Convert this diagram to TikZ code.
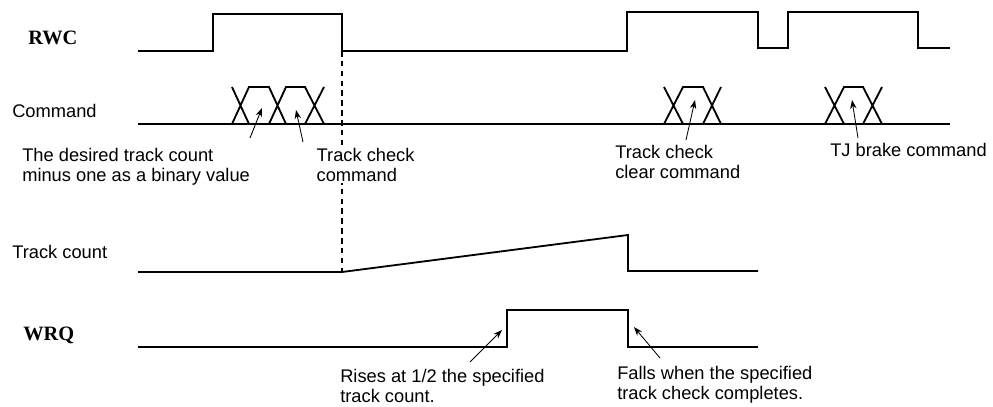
\documentclass[tikz,border=0pt]{standalone}
\usepackage{fontspec}
\usepackage{xcolor}
\usetikzlibrary{arrows.meta}
\newfontfamily\notefont{Liberation Sans}
\newfontfamily\sigfont{Liberation Serif}

\begin{document}
\begin{tikzpicture}[
    x=0.025cm, y=-0.025cm,
    signal/.style={line width=1.3pt, line join=miter},
    sigtext/.style={anchor=west, inner sep=0pt, font=\sigfont\bfseries\fontsize{14.5}{16}\selectfont},
    linetext/.style={anchor=west, inner sep=0pt, font=\notefont\fontsize{13}{14.2}\selectfont},
    note/.style={anchor=north west, inner sep=0pt, align=left,
        font=\notefont\fontsize{13}{14.2}\selectfont},
    pointer/.style={-{Stealth[length=2.2mm, width=1.6mm]}, line width=0.6pt},
    marker/.style={dashed, dash pattern=on 4pt off 3pt, line width=0.9pt}
]
\useasboundingbox (0,0) rectangle (993,407);

% Signal names
\node[sigtext] (rwc) at (28,38) {RWC};
\node[linetext] (cmd) at (12,111) {Command};
\node[linetext] (count) at (12,252) {Track count};
\node[sigtext] (wrq) at (23,335) {WRQ};

% RWC
\draw[signal] (138,51) -- (213,51) -- (213,14) -- (342,14) -- (342,51)
    -- (627,51) -- (627,12) -- (758,12) -- (758,48) -- (788,48)
    -- (788,12) -- (918,12) -- (918,48) -- (950,48);

% Command bus
\draw[signal] (138,124) -- (950,124);
\draw[signal] (232,87) -- (249,124) (232,124) -- (249,87) -- (269,87) -- (286,124)
    (269,124) -- (286,87) -- (305,87) -- (324,124) (305,124) -- (324,87);
\draw[signal] (664,124) -- (683,87) -- (703,87) -- (721,124)
    (664,87) -- (683,124) (703,124) -- (721,87);
\draw[signal] (825,124) -- (844,87) -- (863,87) -- (882,124)
    (825,87) -- (844,124) (863,124) -- (882,87);

% Track count and WRQ
\draw[signal] (138,272) -- (342,272) -- (628,235) -- (628,271) -- (758,271);
\draw[signal] (138,347) -- (507,347) -- (507,310) -- (628,310) -- (628,347) -- (758,347);

% Start of the track check
\draw[marker] (342,51) -- (342,272);

% Notes
\node[note] (binary) at (22,148) {The desired track count\\minus one as a binary value};
\node[note, fill=white, inner sep=1pt] (check) at (315,147) {Track check\\command};
\node[note] (clear) at (615,145) {Track check\\clear command};
\node[note] (brake) at (830,143) {TJ brake command};
\node[note] (rises) at (340,369) {Rises at 1/2 the specified\\track count.};
\node[note] (falls) at (617,366) {Falls when the specified\\track check completes.};

\coordinate (binaryfrom) at (250,138);  \coordinate (binaryto) at (262,108);
\coordinate (checkfrom) at (303,142);   \coordinate (checkto) at (296,110);
\coordinate (clearfrom) at (686,140);   \coordinate (clearto) at (695,100);
\coordinate (brakefrom) at (858,138);   \coordinate (braketo) at (852,100);
\coordinate (risesfrom) at (470,362);   \coordinate (risesto) at (502,330);
\coordinate (fallsfrom) at (660,358);   \coordinate (fallsto) at (634,327);

\draw[pointer] (binaryfrom) -- (binaryto);
\draw[pointer] (checkfrom) -- (checkto);
\draw[pointer] (clearfrom) -- (clearto);
\draw[pointer] (brakefrom) -- (braketo);
\draw[pointer] (risesfrom) -- (risesto);
\draw[pointer] (fallsfrom) -- (fallsto);

\end{tikzpicture}
\end{document}
